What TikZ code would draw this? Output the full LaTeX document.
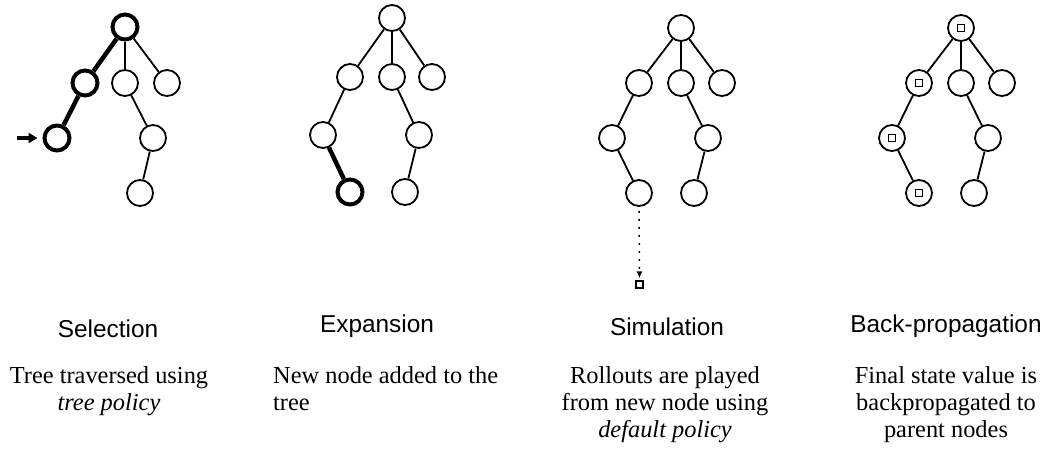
\documentclass[tikz,border=0pt]{standalone}
\usepackage{fontspec}
\setmainfont{Liberation Serif}
\newfontfamily\headfont{Liberation Sans}
\usetikzlibrary{arrows.meta}
\begin{document}
\begin{tikzpicture}[x=1pt,y=-1pt,
  tn/.style={circle,draw,line width=1.8pt,minimum size=26pt,inner sep=0pt,fill=white},
  tnb/.style={tn,line width=4pt,minimum size=25pt},
  edge/.style={line width=1.8pt},
  edgeb/.style={line width=4.5pt},
  sq/.style={draw,rectangle,line width=1.3pt,minimum size=7pt,inner sep=0pt},
  title/.style={font=\headfont\fontsize{24.4}{27}\selectfont,anchor=base,inner sep=0pt},
  body/.style={font=\fontsize{24.4}{27}\selectfont,anchor=base,inner sep=0pt,align=center},
]
\useasboundingbox (0,0) rectangle (1048,450);
% Selection tree
\node[tnb] (s0) at (125,27) {};
\node[tnb] (s1) at (85,83) {};
\node[tn]  (s2) at (125,83) {};
\node[tn]  (s3) at (167,83) {};
\node[tnb] (s4) at (57,138) {};
\node[tn]  (s5) at (153,138) {};
\node[tn]  (s6) at (140,193) {};
\draw[edgeb] (s0) -- (s1);
\draw[edgeb] (s1) -- (s4);
\draw[edge] (s0) -- (s2);
\draw[edge] (s0) -- (s3);
\draw[edge] (s2) -- (s5);
\draw[edge] (s5) -- (s6);
\coordinate (sarr) at (17,138);
\draw[line width=3.5pt,-{Triangle[length=9pt,width=10pt]},shorten >=5pt] (sarr) -- (s4);
% Expansion tree
\node[tn]  (e0) at (392,18) {};
\node[tn]  (e1) at (350,77) {};
\node[tn]  (e2) at (392,77) {};
\node[tn]  (e3) at (432,77) {};
\node[tn]  (e4) at (323,135) {};
\node[tn]  (e5) at (419,135) {};
\node[tnb] (e6) at (350,192) {};
\node[tn]  (e7) at (405,192) {};
\draw[edge] (e0) -- (e1);
\draw[edge] (e0) -- (e2);
\draw[edge] (e0) -- (e3);
\draw[edge] (e1) -- (e4);
\draw[edgeb] (e4) -- (e6);
\draw[edge] (e2) -- (e5);
\draw[edge] (e5) -- (e7);
% Simulation tree
\node[tn] (m0) at (681,28) {};
\node[tn] (m1) at (639,83) {};
\node[tn] (m2) at (681,83) {};
\node[tn] (m3) at (722,83) {};
\node[tn] (m4) at (612,138) {};
\node[tn] (m5) at (708,138) {};
\node[tn] (m6) at (639,193) {};
\node[tn] (m7) at (694,193) {};
\draw[edge] (m0) -- (m1);
\draw[edge] (m0) -- (m2);
\draw[edge] (m0) -- (m3);
\draw[edge] (m1) -- (m4);
\draw[edge] (m4) -- (m6);
\draw[edge] (m2) -- (m5);
\draw[edge] (m5) -- (m7);
\node[sq] (msq) at (639.5,284.5) {};
\draw[line width=1.5pt,dash pattern=on 2pt off 6pt,-{Latex[length=7pt,width=6pt]},shorten <=4pt,shorten >=2pt] (m6) -- (msq);
% Back-propagation tree
\node[tn] (b0) at (961,28) {};
\node[tn] (b1) at (919,83) {};
\node[tn] (b2) at (961,83) {};
\node[tn] (b3) at (1002,83) {};
\node[tn] (b4) at (892,138) {};
\node[tn] (b5) at (988,138) {};
\node[tn] (b6) at (919,193) {};
\node[tn] (b7) at (974,193) {};
\draw[edge] (b0) -- (b1);
\draw[edge] (b0) -- (b2);
\draw[edge] (b0) -- (b3);
\draw[edge] (b1) -- (b4);
\draw[edge] (b4) -- (b6);
\draw[edge] (b2) -- (b5);
\draw[edge] (b5) -- (b7);
\node[sq] (bq0) at (b0.center) {};
\node[sq] (bq1) at (b1.center) {};
\node[sq] (bq4) at (b4.center) {};
\node[sq] (bq6) at (b6.center) {};
% Titles
\node[title] (t1) at (108,337) {Selection};
\node[title] (t2) at (377,332) {Expansion};
\node[title] (t3) at (667,335) {Simulation};
\node[title] (t4) at (946,332) {Back-propagation};
% Descriptions (base anchor = baseline of the last line)
\node[body] (d1) at (109,410) {Tree traversed using\\\textit{tree policy}};
\node[body,align=left,anchor=base west] (d2) at (273,410) {New node added to the\\tree};
\node[body] (d3) at (665,437) {Rollouts are played\\from new node using\\\textit{default policy}};
\node[body] (d4) at (946,437) {Final state value is\\backpropagated to\\parent nodes};
\end{tikzpicture}
\end{document}
